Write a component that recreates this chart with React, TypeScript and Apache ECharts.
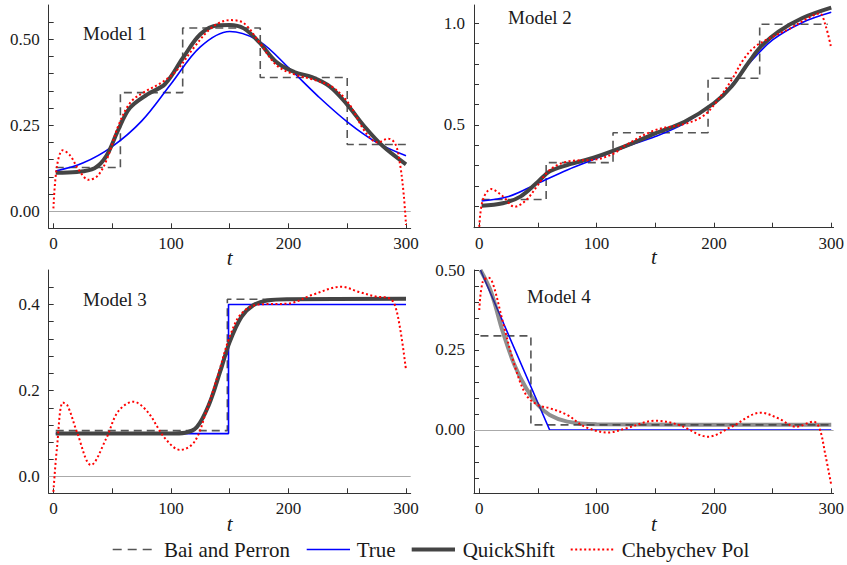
import React, { useEffect, useRef } from "react";
import * as echarts from "echarts";

type P = [number, number][];

// ---- tick / label values ----
const X_LABELS = [0, 100, 200, 300];
const X_TICKS = [0, 50, 100, 150, 200, 250, 300];

const Y1_LABELS = [0, 0.25, 0.5];
const Y1_TICKS = [0, 0.05, 0.1, 0.15, 0.2, 0.25, 0.3, 0.35, 0.4, 0.45, 0.5, 0.55];
const Y2_LABELS = [0.5, 1.0];
const Y2_TICKS = [0.1, 0.2, 0.3, 0.4, 0.5, 0.6, 0.7, 0.8, 0.9, 1.0];
const Y3_LABELS = [0, 0.2, 0.4];
const Y3_TICKS = [0, 0.04, 0.08, 0.12, 0.16, 0.2, 0.24, 0.28, 0.32, 0.36, 0.4, 0.44];
const Y4_LABELS = [0, 0.25, 0.5];
const Y4_TICKS = [-0.15, -0.1, -0.05, 0, 0.05, 0.1, 0.15, 0.2, 0.25, 0.3, 0.35, 0.4, 0.45, 0.5];

const MODEL_TITLES = ["Model 1", "Model 2", "Model 3", "Model 4"];
const SERIES_NAMES = ["Bai and Perron", "True", "QuickShift", "Chebychev Pol"];

// ---- Model 1 ----
const m1Bai: P = [[2, 0.127], [57, 0.127], [57, 0.345], [110, 0.345], [110, 0.533], [176, 0.533], [176, 0.389], [250, 0.389], [250, 0.194], [300, 0.194]];
const m1True: P = [[2, 0.117], [25, 0.14], [50, 0.188], [75, 0.262], [100, 0.37], [125, 0.478], [150, 0.523], [175, 0.495], [200, 0.418], [225, 0.335], [250, 0.26], [275, 0.2], [300, 0.161]];
const m1Quick: P = [[2, 0.112], [20, 0.114], [35, 0.125], [45, 0.16], [55, 0.235], [65, 0.3], [80, 0.34], [95, 0.37], [110, 0.445], [125, 0.515], [140, 0.541], [150, 0.542], [162, 0.532], [175, 0.492], [190, 0.433], [205, 0.405], [220, 0.39], [235, 0.363], [250, 0.31], [265, 0.245], [280, 0.19], [300, 0.136]];
const m1Cheb: P = [[0, 0.008], [3, 0.13], [8, 0.177], [14, 0.163], [22, 0.118], [30, 0.091], [38, 0.104], [46, 0.155], [56, 0.255], [66, 0.318], [78, 0.348], [92, 0.374], [105, 0.41], [120, 0.478], [135, 0.535], [150, 0.556], [162, 0.547], [175, 0.492], [190, 0.424], [205, 0.398], [222, 0.382], [238, 0.36], [252, 0.31], [265, 0.232], [276, 0.2], [285, 0.211], [291, 0.195], [295, 0.135], [298, 0.05], [300, -0.04]];

// ---- Model 2 ----
const m2Bai: P = [[2, 0.134], [57, 0.134], [57, 0.315], [114, 0.315], [114, 0.462], [195, 0.462], [195, 0.73], [239, 0.73], [239, 0.995], [297, 0.995]];
const m2True: P = [[2, 0.126], [25, 0.148], [50, 0.213], [75, 0.279], [100, 0.336], [125, 0.393], [150, 0.443], [175, 0.508], [200, 0.607], [215, 0.697], [230, 0.803], [250, 0.918], [275, 1.003], [300, 1.054]];
const m2Quick: P = [[2, 0.103], [20, 0.115], [35, 0.148], [50, 0.221], [60, 0.272], [75, 0.303], [100, 0.344], [125, 0.397], [150, 0.459], [175, 0.516], [200, 0.607], [215, 0.689], [230, 0.811], [240, 0.885], [255, 0.959], [275, 1.025], [300, 1.077]];
const m2Cheb: P = [[0, 0.0], [3, 0.131], [10, 0.185], [20, 0.15], [30, 0.098], [40, 0.131], [50, 0.205], [60, 0.279], [75, 0.32], [100, 0.331], [115, 0.361], [125, 0.402], [150, 0.475], [175, 0.505], [190, 0.541], [200, 0.598], [215, 0.721], [225, 0.82], [235, 0.885], [250, 0.934], [265, 0.975], [280, 1.025], [290, 1.049], [295, 0.992], [300, 0.877]];

// ---- Model 3 ----
const m3Bai: P = [[2, 0.107], [148, 0.107], [148, 0.412], [300, 0.412]];
const m3True: P = [[2, 0.1], [149, 0.1], [149, 0.4], [300, 0.4]];
const m3Quick: P = [[2, 0.1], [100, 0.1], [112, 0.102], [122, 0.115], [132, 0.165], [142, 0.245], [150, 0.313], [160, 0.371], [170, 0.398], [182, 0.409], [200, 0.412], [300, 0.413]];
const m3Cheb: P = [[0, -0.035], [3, 0.066], [8, 0.172], [12, 0.165], [20, 0.104], [32, 0.027], [45, 0.089], [55, 0.151], [68, 0.174], [80, 0.151], [95, 0.089], [108, 0.062], [120, 0.081], [130, 0.151], [140, 0.236], [150, 0.325], [160, 0.379], [175, 0.4], [200, 0.402], [220, 0.422], [245, 0.441], [260, 0.429], [275, 0.418], [285, 0.415], [290, 0.402], [295, 0.344], [300, 0.248]];

// ---- Model 4 ----
const m4Bai: P = [[1, 0.294], [44, 0.294], [44, 0.016], [300, 0.016]];
const m4True: P = [[1, 0.5], [60, 0.0], [300, 0.0]];
const m4Quick: P = [[1, 0.5], [10, 0.432], [20, 0.307], [30, 0.203], [40, 0.13], [50, 0.078], [60, 0.047], [75, 0.026], [100, 0.018], [300, 0.016]];
const m4Cheb: P = [[0, 0.375], [3, 0.464], [8, 0.476], [12, 0.453], [20, 0.339], [30, 0.203], [40, 0.109], [50, 0.078], [60, 0.068], [75, 0.047], [90, 0.01], [110, -0.008], [125, 0.005], [150, 0.029], [170, 0.016], [195, -0.021], [215, 0.01], [240, 0.054], [255, 0.036], [270, 0.01], [285, 0.026], [290, 0.005], [295, -0.078], [300, -0.172]];

const PANELS = [
  { bai: m1Bai, tru: m1True, quick: m1Quick, cheb: m1Cheb, yLabels: Y1_LABELS, yTicks: Y1_TICKS, dec: 2, yMin: -0.05, yMax: 0.6, xMin: -4, xMax: 304, zero: true, quickColor: "#444444", nameGap: 19 },
  { bai: m2Bai, tru: m2True, quick: m2Quick, cheb: m2Cheb, yLabels: Y2_LABELS, yTicks: Y2_TICKS, dec: 1, yMin: -0.005, yMax: 1.09, xMin: -4.5, xMax: 302, zero: false, quickColor: "#444444", nameGap: 19 },
  { bai: m3Bai, tru: m3True, quick: m3Quick, cheb: m3Cheb, yLabels: Y3_LABELS, yTicks: Y3_TICKS, dec: 1, yMin: -0.0387, yMax: 0.48, xMin: -4, xMax: 304, zero: true, quickColor: "#444444", nameGap: 20 },
  { bai: m4Bai, tru: m4True, quick: m4Quick, cheb: m4Cheb, yLabels: Y4_LABELS, yTicks: Y4_TICKS, dec: 2, yMin: -0.198, yMax: 0.5, xMin: -4.5, xMax: 302, zero: true, quickColor: "rgba(68,68,68,0.6)", nameGap: 20 },
];

const GRIDS = [
  { left: 48.7, top: 5, width: 362, height: 223.3 },
  { left: 474, top: 5, width: 360.3, height: 222.7 },
  { left: 48.7, top: 270, width: 362, height: 223.3 },
  { left: 474, top: 270, width: 360.3, height: 223.3 },
];
const TITLE_POS = [
  { x: 83, y: 33.5 },
  { x: 508, y: 17.5 },
  { x: 83, y: 299 },
  { x: 527, y: 296 },
];

// legend layout (pixels): icon start, text start
const LEGEND_Y = 549.5;
const LEGEND_POS = [
  { x0: 112.7, x1: 155.7, tx: 164 },
  { x0: 306.7, x1: 350, tx: 356.7 },
  { x0: 411.7, x1: 455, tx: 462.7 },
  { x0: 570.7, x1: 614, tx: 621.7 },
];
const LEGEND_STYLES = [
  { stroke: "#555555", lineWidth: 1.6, lineDash: [9, 6] },
  { stroke: "#0000ff", lineWidth: 1.6 },
  { stroke: "#444444", lineWidth: 4 },
  { stroke: "#ff0000", lineWidth: 2, lineDash: [2, 2.5] },
];

const FONT = "'Liberation Serif', 'Times New Roman', serif";
const AXIS_COLOR = "#333333";
const TEXT_COLOR = "#1a1a1a";

export default function App() {
  const ref = useRef<HTMLDivElement>(null);
  useEffect(() => {
    document.body.style.margin = "0";
    if (!ref.current) return;
    const chart = echarts.init(ref.current, undefined, { renderer: "svg" });
    const xAxis: any[] = [];
    const yAxis: any[] = [];
    const series: any[] = [];
    PANELS.forEach((p, i) => {
      xAxis.push({
        type: "value",
        gridIndex: i,
        min: p.xMin,
        max: p.xMax,
        name: "t",
        nameLocation: "middle",
        nameGap: p.nameGap,
        nameMoveOverlap: false,
        nameTextStyle: { fontFamily: FONT, fontStyle: "italic", fontSize: 21, color: TEXT_COLOR },
        axisLine: { show: true, onZero: false, lineStyle: { color: AXIS_COLOR, width: 1 } },
        axisTick: { show: true, inside: true, length: 5, customValues: X_TICKS, lineStyle: { color: AXIS_COLOR } },
        axisLabel: { show: true, customValues: X_LABELS, margin: 7, fontFamily: FONT, fontSize: 17, color: TEXT_COLOR, formatter: (v: number) => String(Math.round(v)) },
        splitLine: { show: false },
      });
      yAxis.push({
        type: "value",
        gridIndex: i,
        min: p.yMin,
        max: p.yMax,
        axisLine: { show: true, onZero: false, lineStyle: { color: AXIS_COLOR, width: 1 } },
        axisTick: { show: true, inside: true, length: 5, customValues: p.yTicks, lineStyle: { color: AXIS_COLOR } },
        axisLabel: { show: true, customValues: p.yLabels, margin: 9, fontFamily: FONT, fontSize: 17, color: TEXT_COLOR, formatter: (v: number) => v.toFixed(p.dec) },
        splitLine: { show: false },
      });
      if (p.zero) {
        series.push({
          type: "line",
          name: "zero" + i,
          xAxisIndex: i,
          yAxisIndex: i,
          data: [],
          z: 1,
          silent: true,
          markLine: {
            silent: true,
            symbol: ["none", "none"],
            label: { show: false },
            lineStyle: { color: "#aaaaaa", width: 1, type: "solid" },
            emphasis: { disabled: true },
            data: [{ yAxis: 0 }],
          },
        });
      }
      series.push({
        type: "line", name: SERIES_NAMES[0], xAxisIndex: i, yAxisIndex: i, data: p.bai, symbol: "none", z: 2,
        lineStyle: { color: "#555555", width: 1.6, type: [8, 5] }, itemStyle: { color: "#555555" },
      });
      series.push({
        type: "line", name: SERIES_NAMES[1], xAxisIndex: i, yAxisIndex: i, data: p.tru, symbol: "none", z: 3,
        smooth: i < 2 ? 0.35 : false,
        lineStyle: { color: "#0000ff", width: 1.6 }, itemStyle: { color: "#0000ff" },
      });
      series.push({
        type: "line", name: SERIES_NAMES[2], xAxisIndex: i, yAxisIndex: i, data: p.quick, symbol: "none", z: 4,
        smooth: 0.35,
        lineStyle: { color: p.quickColor, width: 4 }, itemStyle: { color: p.quickColor },
      });
      series.push({
        type: "line", name: SERIES_NAMES[3], xAxisIndex: i, yAxisIndex: i, data: p.cheb, symbol: "none", z: 5,
        smooth: 0.35,
        lineStyle: { color: "#ff0000", width: 2, type: [2, 2.5] }, itemStyle: { color: "#ff0000" },
      });
    });

    const graphic: any[] = MODEL_TITLES.map((t, i) => ({
      type: "text",
      x: TITLE_POS[i].x,
      y: TITLE_POS[i].y,
      style: { text: t, fontFamily: FONT, fontSize: 19, fill: TEXT_COLOR, align: "left", verticalAlign: "middle" },
      silent: true,
    }));
    SERIES_NAMES.forEach((n, i) => {
      const pos = LEGEND_POS[i];
      graphic.push({
        type: "line",
        silent: true,
        shape: { x1: pos.x0, y1: LEGEND_Y, x2: pos.x1, y2: LEGEND_Y },
        style: { ...LEGEND_STYLES[i], fill: null },
      });
      graphic.push({
        type: "text",
        silent: true,
        x: pos.tx,
        y: LEGEND_Y,
        style: { text: n, fontFamily: FONT, fontSize: 21, fill: TEXT_COLOR, align: "left", verticalAlign: "middle" },
      });
    });

    chart.setOption({
      animation: false,
      backgroundColor: "#ffffff",
      grid: GRIDS.map((g) => ({ ...g, containLabel: false })),
      xAxis,
      yAxis,
      series,
      graphic,
      legend: { show: false },
      tooltip: { show: false },
    });
    return () => chart.dispose();
  }, []);
  return (
    <div style={{ position: "absolute", left: 0, top: 0, width: 847, height: 565, background: "#fff" }}>
      <div ref={ref} style={{ width: 847, height: 565 }} />
    </div>
  );
}
